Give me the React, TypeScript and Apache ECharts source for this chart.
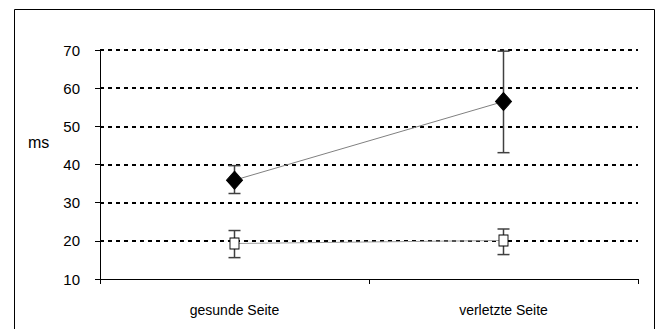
import React, { useEffect, useRef } from "react";
import * as echarts from "echarts";

const categories = ["gesunde Seite", "verletzte Seite"];
const diamondMean = [35.9, 56.5];
const diamondLow = [32.4, 43.1];
const diamondHigh = [39.7, 69.7];
const squareMean = [19.3, 20.1];
const squareLow = [15.6, 16.4];
const squareHigh = [22.7, 23.1];
const yTicks = [10, 20, 30, 40, 50, 60, 70];

function errorSeries(low: number[], high: number[]) {
  return {
    type: "custom",
    z: 1,
    silent: true,
    data: categories.map((_, i) => [i, low[i], high[i]]),
    renderItem: (params: any, api: any) => {
      const x = api.value(0);
      const lo = api.coord([x, api.value(1)]);
      const hi = api.coord([x, api.value(2)]);
      const hw = 6;
      const style = { stroke: "#404040", lineWidth: 1.5 };
      return {
        type: "group",
        children: [
          { type: "line", shape: { x1: lo[0], y1: lo[1], x2: hi[0], y2: hi[1] }, style },
          { type: "line", shape: { x1: lo[0] - hw, y1: lo[1], x2: lo[0] + hw, y2: lo[1] }, style },
          { type: "line", shape: { x1: hi[0] - hw, y1: hi[1], x2: hi[0] + hw, y2: hi[1] }, style },
        ],
      };
    },
  };
}

export default function App() {
  const ref = useRef<HTMLDivElement>(null);
  useEffect(() => {
    if (!ref.current) return;
    const chart = echarts.init(ref.current, null, { renderer: "svg" });
    chart.setOption({
      animation: false,
      backgroundColor: "#ffffff",
      textStyle: { fontFamily: "Liberation Sans" },
      graphic: [
        {
          type: "rect",
          shape: { x: 14.5, y: 9.5, width: 640, height: 340 },
          style: { fill: "none", stroke: "#000", lineWidth: 1 },
          silent: true,
        },
        {
          type: "text",
          x: 28,
          y: 134,
          style: { text: "ms", font: "16px Liberation Sans", fill: "#000" },
        },
      ],
      grid: { left: 100, right: 21, top: 50, bottom: 50 },
      xAxis: {
        type: "category",
        data: categories,
        boundaryGap: true,
        z: 5,
        axisLine: { lineStyle: { color: "#000", width: 1 } },
        axisTick: { show: true, length: 5, lineStyle: { color: "#000" } },
        axisLabel: { color: "#000", fontSize: 14, margin: 24, fontFamily: "Liberation Sans" },
      },
      yAxis: {
        type: "value",
        min: 10,
        max: 70,
        interval: 10,
        axisLine: { show: true, lineStyle: { color: "#000", width: 1 } },
        axisTick: { show: true, length: 5, lineStyle: { color: "#000" } },
        axisLabel: {
          color: "#000",
          fontSize: 15,
          margin: 20,
          fontFamily: "Liberation Sans",
          formatter: (v: number) => (yTicks.includes(v) ? String(v) : ""),
        },
        splitLine: {
          show: true,
          showMinLine: false,
          lineStyle: { color: "#000", width: 2, type: [4, 4] },
        },
      },
      series: [
        errorSeries(diamondLow, diamondHigh),
        errorSeries(squareLow, squareHigh),
        {
          type: "line",
          z: 3,
          data: diamondMean,
          symbol: "diamond",
          symbolSize: [16, 18],
          lineStyle: { color: "#808080", width: 1 },
          itemStyle: { color: "#000", borderColor: "#000", borderWidth: 1 },
        },
        {
          type: "line",
          z: 3,
          data: squareMean,
          symbol: "rect",
          symbolSize: [9, 11],
          lineStyle: { color: "#a0a0a0", width: 1 },
          itemStyle: { color: "#fff", borderColor: "#000", borderWidth: 1 },
        },
      ],
    });
    return () => chart.dispose();
  }, []);
  return (
    <div
      ref={ref}
      style={{ position: "fixed", left: 0, top: 0, width: 659, height: 329 }}
    />
  );
}
